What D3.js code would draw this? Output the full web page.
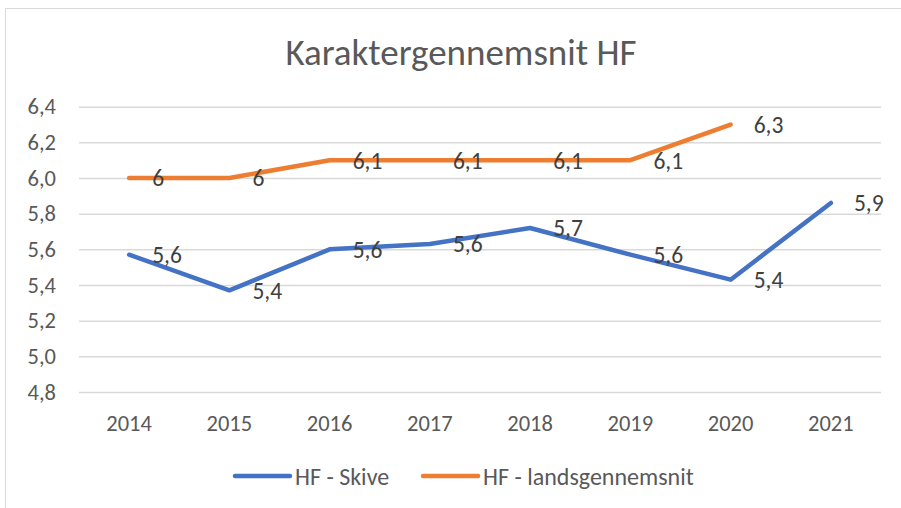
<!DOCTYPE html>
<html>
<head>
<meta charset="utf-8">
<script src="https://cdn.jsdelivr.net/npm/d3@7"></script>
<style>
  body { margin: 0; background: #fff; }
  svg { display: block; font-family: Calibri, Carlito, Lato, sans-serif; }
</style>
</head>
<body>
<div id="chart"></div>
<script>
// Data
const years = ["2014", "2015", "2016", "2017", "2018", "2019", "2020", "2021"];
const skive = [5.57, 5.37, 5.60, 5.63, 5.72, 5.57, 5.43, 5.86];
const lands = [6.0, 6.0, 6.1, 6.1, 6.1, 6.1, 6.3, null];
const yTicks = [4.8, 5.0, 5.2, 5.4, 5.6, 5.8, 6.0, 6.2, 6.4];

const series = [
    { name: "HF - Skive", values: skive, color: "#4472C4" },
    { name: "HF - landsgennemsnit", values: lands, color: "#ED7D31" }
];

const width = 901, height = 508;
const plot = { left: 79, right: 881, top: 106.7, bottom: 392 };

const svg = d3.select("#chart")
    .append("svg")
    .attr("width", width)
    .attr("height", height);

// Chart area frame
svg.append("rect")
    .attr("x", 5.5).attr("y", 8.5)
    .attr("width", 920).attr("height", 520)
    .attr("fill", "#fff")
    .attr("stroke", "#d9d9d9")
    .attr("stroke-width", 1);

// Title
svg.append("text")
    .attr("x", 461)
    .attr("y", 65)
    .attr("text-anchor", "middle")
    .style("font-size", "37px")
    .style("fill", "#595959")
    .text("Karaktergennemsnit HF");

const x = d3.scaleBand().domain(years).range([plot.left, plot.right]);
const y = d3.scaleLinear().domain([4.8, 6.4]).range([plot.bottom, plot.top]);

const fmt = v => d3.format(".1~f")(v).replace(".", ",");

// Gridlines + y tick labels
const yAxis = svg.append("g")
    .attr("transform", `translate(${plot.left},0)`)
    .call(d3.axisLeft(y).tickValues(yTicks).tickSize(-(plot.right - plot.left)).tickPadding(23).tickFormat(d => d3.format(".1f")(d).replace(".", ",")));
yAxis.select(".domain").remove();
yAxis.selectAll(".tick line").attr("stroke", "#d9d9d9").attr("stroke-width", 1.5);
yAxis.selectAll(".tick text")
    .style("font-size", "22.5px")
    .style("font-family", "Calibri, Carlito, Lato, sans-serif")
    .attr("fill", "#595959");

// x axis labels
const xAxis = svg.append("g")
    .attr("transform", `translate(0,${plot.bottom})`)
    .call(d3.axisBottom(x).tickSize(0).tickPadding(23));
xAxis.select(".domain").remove();
xAxis.selectAll(".tick text")
    .style("font-size", "22.5px")
    .style("font-family", "Calibri, Carlito, Lato, sans-serif")
    .attr("fill", "#595959");

const line = d3.line()
    .defined(d => d != null)
    .x((d, i) => x(years[i]) + x.bandwidth() / 2)
    .y(d => y(d));

series.forEach(s => {
    svg.append("path")
        .datum(s.values)
        .attr("d", line)
        .attr("fill", "none")
        .attr("stroke", s.color)
        .attr("stroke-width", 4.5)
        .attr("stroke-linecap", "round")
        .attr("stroke-linejoin", "round");

    svg.append("g")
        .selectAll("text")
        .data(s.values.map((v, i) => ({ v, year: years[i] })).filter(d => d.v != null))
        .enter()
        .append("text")
        .attr("x", d => x(d.year) + x.bandwidth() / 2 + 23)
        .attr("y", d => y(d.v))
        .attr("dy", "0.36em")
        .style("font-size", "23.5px")
        .style("fill", "#404040")
        .text(d => fmt(d.v));
});

// Legend
const legendItems = [
    { x0: 235, s: series[0] },
    { x0: 423, s: series[1] }
];
legendItems.forEach(item => {
    const g = svg.append("g").attr("transform", `translate(${item.x0},476)`);
    g.append("line")
        .attr("x1", 0).attr("x2", 55)
        .attr("stroke", item.s.color)
        .attr("stroke-width", 4.5)
        .attr("stroke-linecap", "round");
    g.append("text")
        .attr("x", 60)
        .attr("dy", "0.36em")
        .style("font-size", "24px")
        .style("fill", "#595959")
        .text(item.s.name);
});
</script>
</body>
</html>
